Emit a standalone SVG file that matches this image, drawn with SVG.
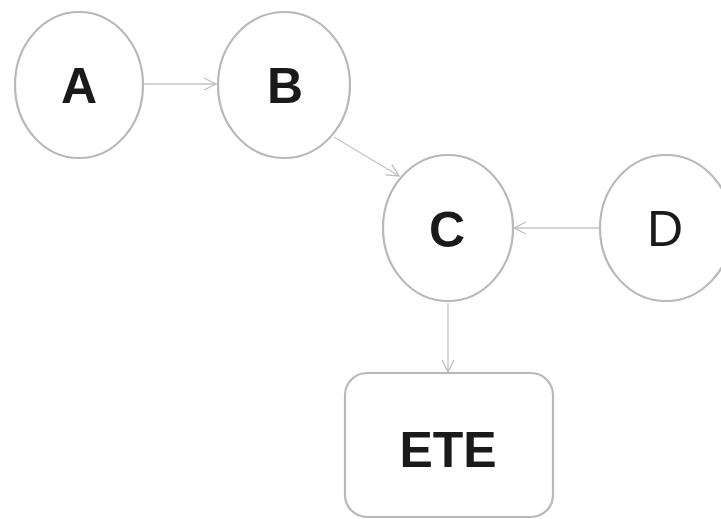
<svg xmlns="http://www.w3.org/2000/svg" width="721" height="519" viewBox="0 0 721 519">
  <style>
    .node { fill: #ffffff; stroke: #b8b8b8; stroke-width: 2.2; }
    .edge { fill: none; stroke: #c4c4c4; stroke-width: 1.3; }
    .label { font-family: "Liberation Sans", Arial, sans-serif; font-size: 50px; fill: #1a1a1a; text-anchor: middle; }
    .bold { font-weight: bold; }
  </style>
  <defs>
    <marker id="arrow" markerUnits="userSpaceOnUse" markerWidth="16" markerHeight="16" refX="13" refY="7" orient="auto">
      <path d="M1,1 L13,7 L1,13" fill="none" stroke="#bdbdbd" stroke-width="1.3"/>
    </marker>
  </defs>
  <rect width="721" height="519" fill="#ffffff"/>

  <g id="connectors">
    <line class="edge" x1="144" y1="84" x2="216" y2="84" marker-end="url(#arrow)"/>
    <line class="edge" x1="334" y1="137" x2="399" y2="176" marker-end="url(#arrow)"/>
    <line class="edge" x1="599" y1="228" x2="514" y2="228" marker-end="url(#arrow)"/>
    <line class="edge" x1="448" y1="303" x2="448" y2="372" marker-end="url(#arrow)"/>
  </g>

  <g id="node-A">
    <ellipse class="node" cx="79" cy="85" rx="64" ry="73"/>
    <text class="label bold" x="79" y="103">A</text>
  </g>
  <g id="node-B">
    <ellipse class="node" cx="284" cy="85" rx="66" ry="73"/>
    <text class="label bold" x="285" y="103">B</text>
  </g>
  <g id="node-C">
    <ellipse class="node" cx="448" cy="228" rx="65" ry="73"/>
    <text class="label bold" x="447" y="247">C</text>
  </g>
  <g id="node-D">
    <ellipse class="node" cx="666" cy="228" rx="66" ry="73"/>
    <text class="label" x="665" y="246">D</text>
  </g>
  <g id="node-ETE">
    <rect class="node" x="345" y="373" width="208" height="144" rx="22" ry="22"/>
    <text class="label bold" x="448" y="467">ETE</text>
  </g>
</svg>
